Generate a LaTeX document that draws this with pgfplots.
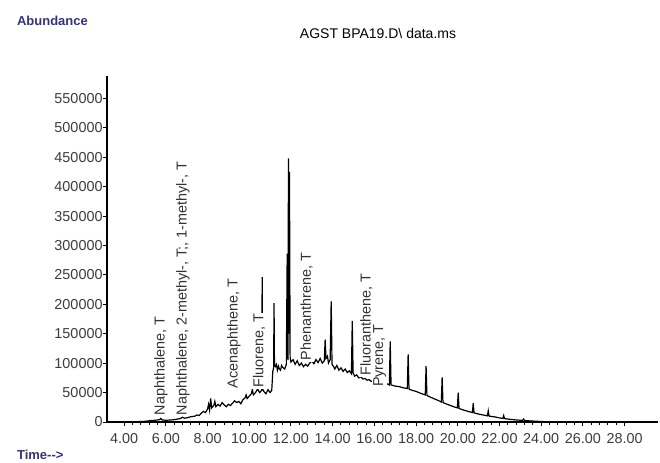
\documentclass[border=0pt]{standalone}
\usepackage{fontspec}
\setmainfont{Liberation Sans}
\usepackage{pgfplots}
\pgfplotsset{compat=1.18}

\definecolor{navy}{RGB}{52,52,120}
\definecolor{ticktext}{RGB}{60,60,60}
\tikzset{pk/.style={rotate=90, anchor=west, fill=white, inner sep=0.6pt,
    font=\fontsize{7.2}{8}\selectfont, text=black!80}}

% total ion chromatogram
\pgfplotstableread{
t      ab
3.30   0
3.80   200
4.40   300
4.80   800
5.00   1200
5.30   2500
5.50   3000
5.70   4000
5.76   6000
5.82   3500
6.00   3000
6.30   3500
6.50   4500
6.70   6000
6.80   8000
6.90   6500
7.00   7000
7.20   9000
7.40   10000
7.50   12000
7.60   11000
7.70   15000
7.80   18000
7.90   16000
8.00   22000
8.05   30000
8.10   20000
8.15   40000
8.20   24000
8.30   28000
8.35   35000
8.40   26000
8.50   30000
8.60   27000
8.70   33000
8.80   29000
8.90   26000
9.00   30000
9.10   28000
9.20   32000
9.30   36000
9.40   33000
9.50   35000
9.60   31000
9.70   38000
9.80   41000
9.85   46000
9.90   40000
10.00  44000
10.10  48000
10.15  55000
10.20  46000
10.30  50000
10.40  56000
10.50  50000
10.60  54000
10.62  246000
10.64  56000
10.70  52000
10.80  48000
10.90  55000
11.00  50000
11.08  54000
11.13  86000
11.17  92000
11.19  202000
11.21  96000
11.25  94000
11.30  98000
11.35  88000
11.40  95000
11.45  90000
11.50  88000
11.55  96000
11.60  93000
11.70  90000
11.78  98000
11.82  286000
11.86  105000
11.88  448000
11.91  150000
11.93  425000
11.96  110000
12.00  102000
12.10  106000
12.20  98000
12.30  104000
12.40  96000
12.50  100000
12.60  94000
12.70  98000
12.80  95000
12.90  100000
13.00  104000
13.10  99000
13.20  106000
13.30  101000
13.40  108000
13.50  100000
13.60  104000
13.64  140000
13.68  108000
13.75  112000
13.80  100000
13.88  106000
13.93  205000
13.97  98000
14.05  94000
14.10  90000
14.20  96000
14.30  88000
14.40  92000
14.50  86000
14.60  90000
14.70  84000
14.80  87000
14.90  82000
14.94  172000
14.98  84000
15.05  78000
15.15  80000
15.25  75000
15.35  77000
15.45  73000
15.55  74000
15.65  71000
15.75  72000
15.85  69000
15.95  70000
16.05  67000
16.15  68000
16.30  66000
16.45  64000
16.60  65000
16.72  63000
16.76  137000
16.80  63000
16.90  62000
17.00  61000
17.20  60000
17.40  58000
17.58  57000
17.62  115000
17.66  56000
17.80  54000
18.00  52000
18.20  49000
18.44  46000
18.48  95000
18.52  45000
18.70  42000
18.90  39000
19.10  36000
19.21  34000
19.25  76000
19.29  33000
19.50  30000
19.80  26000
19.98  24000
20.02  50000
20.06  23000
20.30  20000
20.50  18000
20.70  16000
20.74  32000
20.78  15500
21.00  13500
21.20  12000
21.42  10500
21.46  19000
21.50  10000
21.80  8500
22.00  7000
22.16  6000
22.20  11000
22.24  5800
22.50  4500
22.80  3500
23.00  3000
23.10  2600
23.15  5000
23.20  2500
23.50  1800
23.80  1200
24.00  800
24.60  200
}\tic

\begin{document}
\begin{tikzpicture}
\path[use as bounding box] (0,0) rectangle (330pt,231pt);
\begin{axis}[
  at={(53.5pt,20pt)}, anchor=south west,
  scale only axis,
  width=275.5pt, height=173pt,
  xmin=3.18, xmax=29.6,
  ymin=0, ymax=588000,
  axis lines=left,
  axis line style={-, line width=0.6pt},
  tick align=outside,
  tick style={black, line width=0.5pt},
  major tick length=2.2pt,
  minor tick length=1.6pt,
  xtick={4,6,...,28},
  minor x tick num=4,
  ytick={0,50000,...,550000},
  scaled y ticks=false,
  ticklabel style={font=\fontsize{7.2}{8}\selectfont, text=ticktext},
  /pgf/number format/assume math mode=true,
  xticklabel style={/pgf/number format/fixed, /pgf/number format/fixed zerofill,
    /pgf/number format/precision=2},
  yticklabel style={/pgf/number format/fixed, /pgf/number format/1000 sep={}, xshift=3.5pt},
  clip=false,
]
\addplot[black, line width=0.6pt] table[x=t, y=ab] {\tic};

\node[pk] at (axis cs:5.76,9000) {Naphthalene, T};
\node[pk] at (axis cs:6.82,9000) {Naphthalene, 2-methyl-, T;, 1-methyl-, T};
\node[pk] at (axis cs:9.27,55000) {Acenaphthene, T};
\node[pk] at (axis cs:10.47,56000) {Fluorene, T};
\node[pk] at (axis cs:12.75,102000) {Phenanthrene, T};
\node[pk] at (axis cs:15.62,76000) {Fluoranthene, T};
\node[pk] at (axis cs:16.25,57000) {Pyrene, T};
\end{axis}
\node[anchor=west, text=navy, font=\bfseries\fontsize{6.5}{8}\selectfont] at (5pt,220.75pt) {Abundance};
\node[anchor=west, text=navy, font=\bfseries\fontsize{6.5}{8}\selectfont] at (5pt,3.5pt) {Time-{}-{}>};
\node[font=\fontsize{7}{8}\selectfont] at (189pt,214.5pt) {AGST BPA19.D\textbackslash{} data.ms};
\end{tikzpicture}
\end{document}
